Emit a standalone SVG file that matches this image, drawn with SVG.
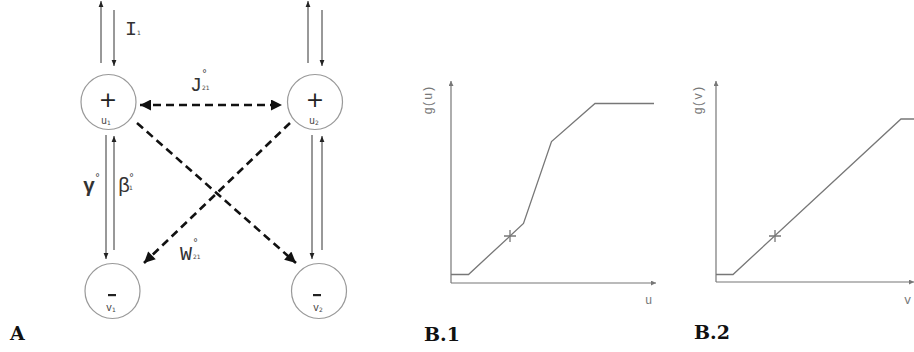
<svg xmlns="http://www.w3.org/2000/svg" width="914" height="352" viewBox="0 0 914 352">
<defs>
<marker id="ah" viewBox="0 0 10 10" refX="10" refY="5" markerWidth="6" markerHeight="8" markerUnits="userSpaceOnUse" orient="auto"><path d="M0,1 L10,5 L0,9 z" fill="#222"/></marker>
<marker id="dh" viewBox="0 0 10 10" refX="10" refY="5" markerWidth="15" markerHeight="11" markerUnits="userSpaceOnUse" orient="auto-start-reverse"><path d="M0,0 L10,5 L0,10 z" fill="#111"/></marker>
<marker id="gh" viewBox="0 0 10 10" refX="10" refY="5" markerWidth="7" markerHeight="5" markerUnits="userSpaceOnUse" orient="auto"><path d="M0,0 L10,5 L0,10 z" fill="#777"/></marker>
</defs>
<style>
.node circle{fill:#fff;stroke:#999;stroke-width:1.2}
.thin{stroke:#333;stroke-width:1;fill:none;marker-end:url(#ah)}
.dash{stroke:#111;stroke-width:2.6;stroke-dasharray:8 5;fill:none}
.sign{font-family:"DejaVu Sans",sans-serif;font-size:22px;fill:#222;text-anchor:middle}
.nl{font-family:"Liberation Mono",monospace;font-size:10px;fill:#444;text-anchor:middle}
.lbl{font-family:"Liberation Mono","DejaVu Sans Mono",monospace;font-size:20px;fill:#333}
.sub{font-family:"DejaVu Sans",sans-serif;font-size:6px;fill:#444}
.sup{font-family:"DejaVu Sans",sans-serif;font-size:10px;fill:#444}
.ax{stroke:#777;stroke-width:1.2;fill:none;marker-end:url(#gh)}
.cv{stroke:#777;stroke-width:1.3;fill:none}
.gl{font-family:"Liberation Mono",monospace;font-size:12px;fill:#777}
.big{font-family:"DejaVu Serif",serif;font-size:19px;font-weight:bold;fill:#111}
</style>
<rect width="914" height="352" fill="#fff"/>
<g id="connectors">
<line class="thin" x1="101" y1="63" x2="101" y2="1"/>
<line class="thin" x1="114" y1="10" x2="114" y2="66"/>
<line class="thin" x1="308" y1="63" x2="308" y2="1"/>
<line class="thin" x1="322" y1="10" x2="322" y2="66"/>
<line class="thin" x1="106" y1="135" x2="106" y2="259"/>
<line class="thin" x1="114" y1="250" x2="114" y2="136"/>
<line class="thin" x1="312" y1="135" x2="312" y2="259"/>
<line class="thin" x1="322" y1="250" x2="322" y2="136"/>
<line class="dash" x1="140" y1="105" x2="282" y2="105" marker-start="url(#dh)" marker-end="url(#dh)"/>
<line class="dash" x1="137" y1="123" x2="296" y2="263" marker-end="url(#dh)"/>
<line class="dash" x1="290" y1="123" x2="144" y2="263" marker-end="url(#dh)"/>
</g>
<g id="u1" class="node"><circle cx="108.5" cy="102" r="27.5"/><text class="sign" x="108" y="107">+</text><text class="nl" x="106" y="124">u<tspan class="sub" dy="1">1</tspan></text></g>
<g id="u2" class="node"><circle cx="315" cy="102" r="27.5"/><text class="sign" x="315" y="107">+</text><text class="nl" x="314" y="124">u<tspan class="sub" dy="1">2</tspan></text></g>
<g id="v1" class="node"><circle cx="112.5" cy="291" r="27.5"/><rect x="108" y="294" width="8" height="2.2" fill="#222"/><text class="nl" x="111" y="311">v<tspan class="sub" dy="1">1</tspan></text></g>
<g id="v2" class="node"><circle cx="319" cy="291" r="27.5"/><rect x="313" y="294" width="8" height="2.2" fill="#222"/><text class="nl" x="318" y="311">v<tspan class="sub" dy="1">2</tspan></text></g>
<g id="labels">
<text class="lbl" x="125" y="35">I<tspan class="sub">1</tspan></text>
<text class="lbl" x="190" y="91">J</text><text class="sup" x="202" y="77">°</text><text class="sub" x="202" y="90">21</text>
<text class="lbl" x="83" y="192" font-weight="bold">γ</text><text class="sup" x="95" y="181">°</text>
<text class="lbl" x="118" y="192">β</text><text class="sup" x="129" y="181">°</text><text class="sub" x="129" y="190">1</text>
<text class="lbl" x="180" y="260">W</text><text class="sup" x="193" y="246">°</text><text class="sub" x="193" y="259">21</text>
</g>
<g id="graph1">
<line class="ax" x1="451" y1="283" x2="451" y2="81"/>
<line class="ax" x1="451" y1="283" x2="656" y2="283"/>
<polyline class="cv" points="451,274.5 468.5,274.5 523.5,223.5 551.5,141.5 595,103.5 654,103.5"/>
<path class="cv" d="M504,236 H516 M510,230 V242"/>
<text class="gl" transform="translate(432,100) rotate(-90)" text-anchor="middle">g(u)</text>
<text class="gl" x="645" y="304">u</text>
</g>
<g id="graph2">
<line class="ax" x1="716" y1="282" x2="716" y2="81"/>
<line class="ax" x1="716" y1="282" x2="914" y2="282"/>
<polyline class="cv" points="716,274.5 733,274.5 901,119 914,119"/>
<path class="cv" d="M769,236 H781 M775,230 V242"/>
<text class="gl" transform="translate(702,100) rotate(-90)" text-anchor="middle">g(v)</text>
<text class="gl" x="904" y="304">v</text>
</g>
<text class="big" x="10" y="340">A</text>
<text class="big" x="424" y="341">B.1</text>
<text class="big" x="694" y="339">B.2</text>
</svg>
